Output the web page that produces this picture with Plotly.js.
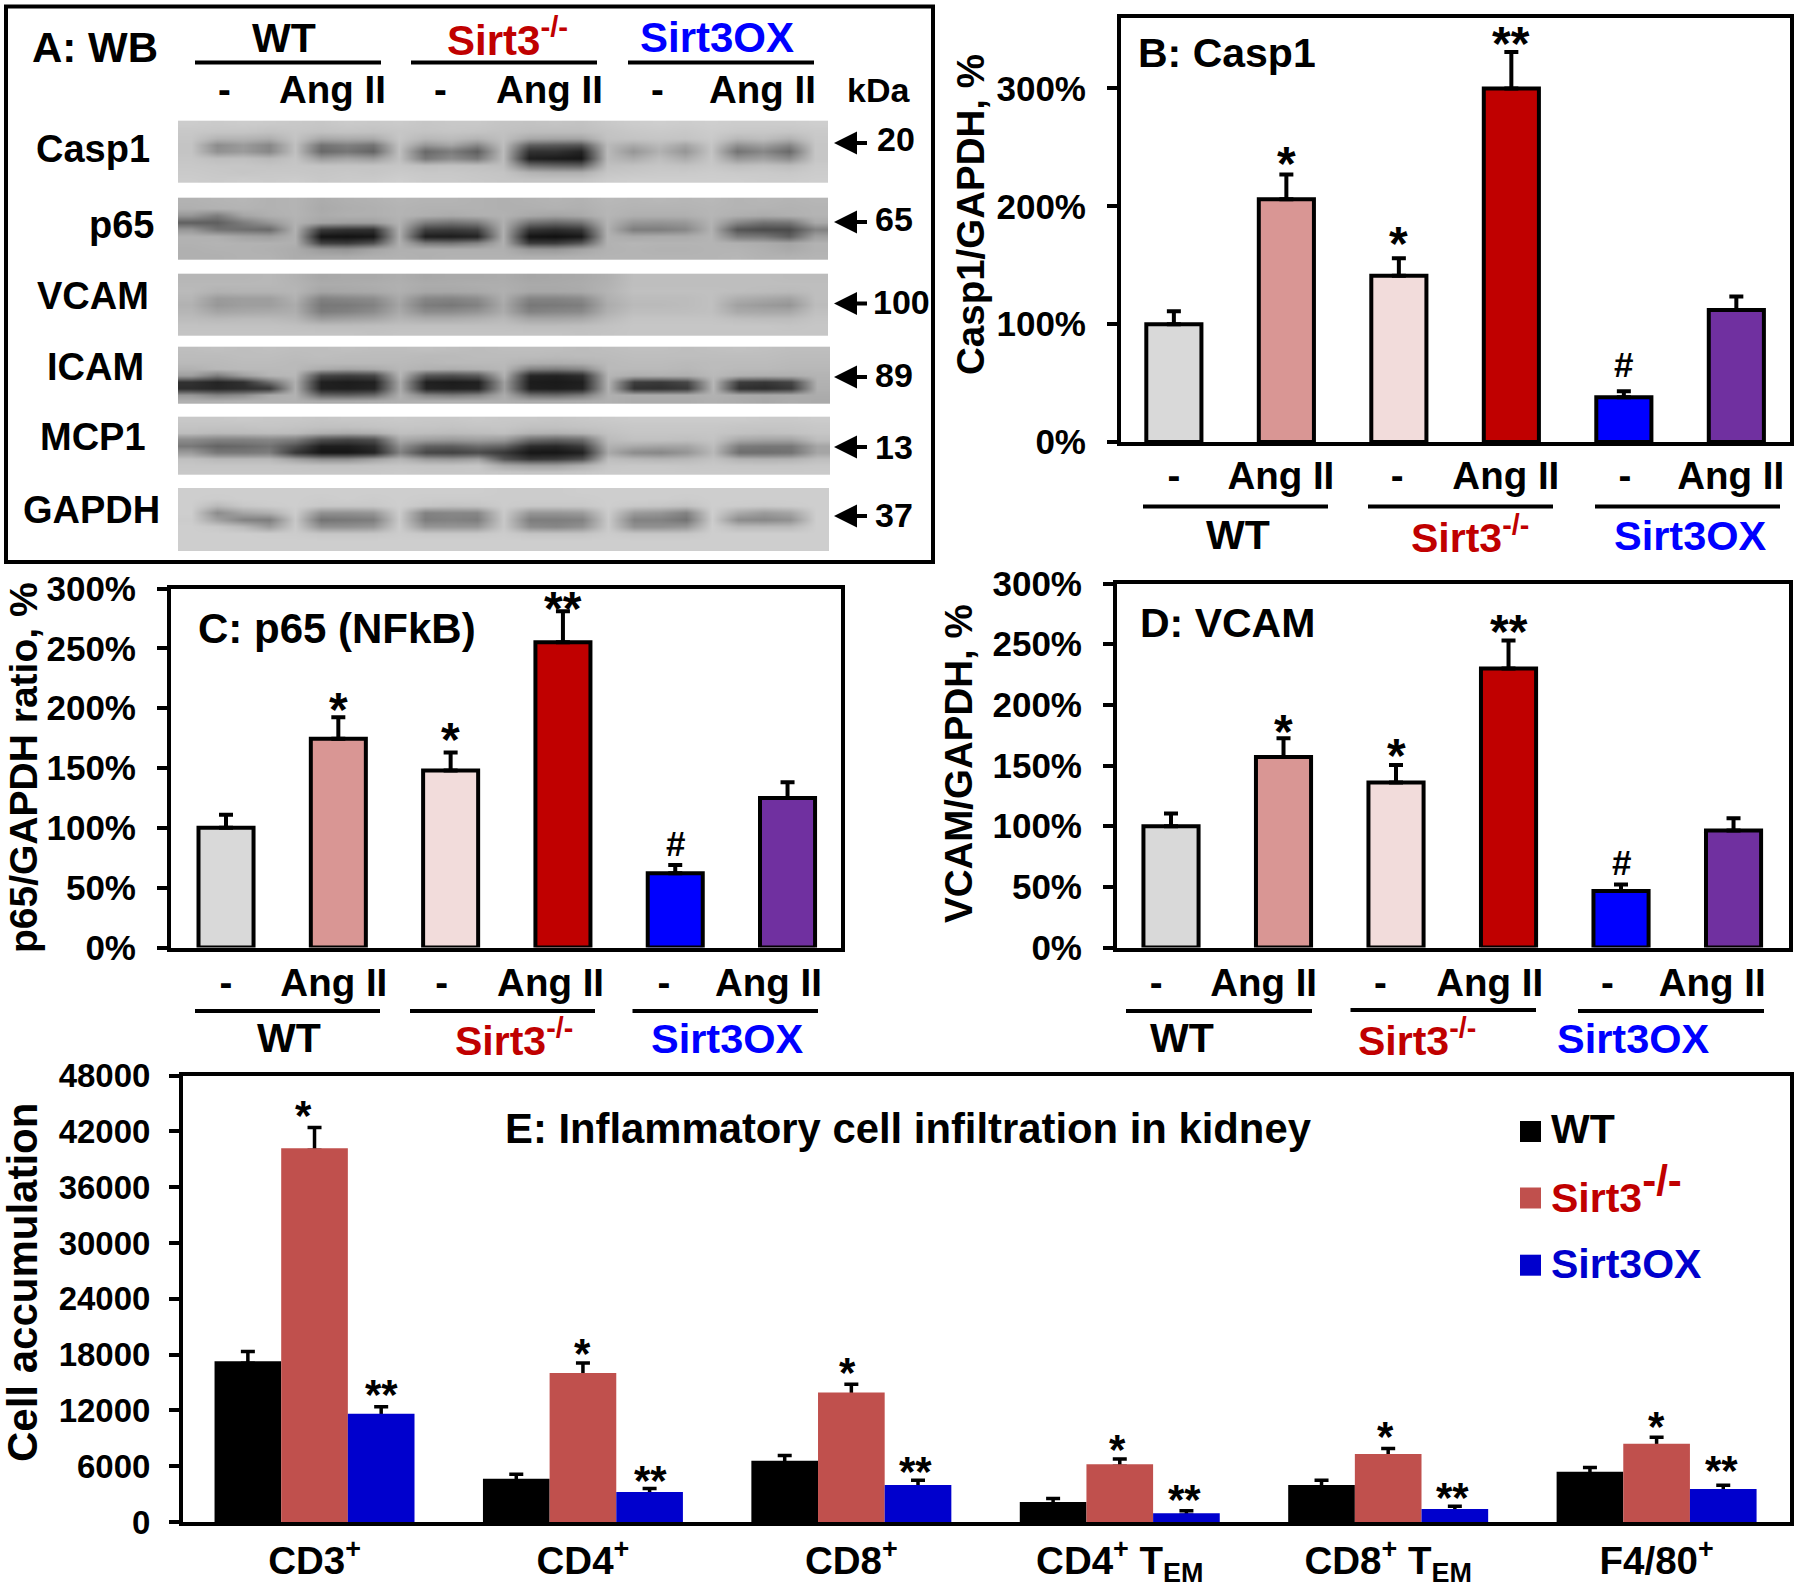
<!DOCTYPE html>
<html><head><meta charset="utf-8">
<script src="https://cdn.plot.ly/plotly-3.0.1.min.js"></script>
<style>html,body{margin:0;padding:0;background:#fff}</style></head>
<body><div id="chart" style="width:1800px;height:1589px"></div>
<script>
const W=1800,H=1589,FONT='"Liberation Sans",Arial,sans-serif';
const RED='#c00000',BLUE='#0000ff',DBLUE='#0000cd';

// ---- data ----
const treatments=['-','Ang II','-','Ang II','-','Ang II'];
const barColors=['#d9d9d9','#d99694','#f2dcdb','#c00000','#0000ff','#7030a0'];
const casp1Values=[100,206,141,300,38,112];
const casp1ErrTop=[111,227,156,331,43,123.5];
const p65Values=[100,174.5,148,255,62,125];
const p65ErrTop=[111,192.5,163,281,69,138];
const vcamValues=[100,157,136,230,46.5,96.5];
const vcamErrTop=[110.5,172.5,150.5,253,52,106.5];
const cellTypes=['CD3<sup>+</sup>','CD4<sup>+</sup>','CD8<sup>+</sup>','CD4<sup>+</sup> T<sub>EM</sub>','CD8<sup>+</sup> T<sub>EM</sub>','F4/80<sup>+</sup>'];
const wtCells=[17290,4640,6580,2160,3990,5390];
const wtCellsErrTop=[18330,5140,7150,2520,4490,5860];
const koCells=[40190,16030,13910,6220,7300,8410];
const koCellsErrTop=[42420,17080,14810,6760,7910,9100];
const oxCells=[11650,3235,3990,935,1400,3560];
const oxCellsErrTop=[12400,3595,4490,1220,1690,3950];

// western blot grey levels, 25 columns by 9 rows, read lane by lane
const casp1Blot=[
[204,202,204,202,200,198,202,200,202,198,200,200,196,194,196,194,200,204,206,204,206,204,204,204,206],
[200,198,198,194,198,194,196,194,198,196,198,196,194,190,190,190,196,200,202,200,204,200,200,198,202],
[198,180,180,174,196,168,172,170,198,184,188,180,192,168,165,165,194,196,198,196,202,184,190,178,200],
[196,140,155,135,192,115,128,115,194,150,165,135,190,95,90,85,186,170,186,165,198,145,160,135,198],
[196,145,155,135,192,105,118,100,192,105,125,95,188,50,50,35,186,150,178,150,196,115,135,105,198],
[198,190,192,185,196,155,165,155,192,120,140,120,188,30,26,22,186,172,190,172,198,150,160,140,198],
[200,198,198,196,198,196,196,196,198,192,194,192,190,110,100,95,192,194,198,194,200,190,194,188,202],
[202,200,198,200,200,198,200,198,202,200,200,198,196,180,175,175,198,200,202,202,204,202,202,200,204],
[204,202,204,202,204,200,202,202,206,202,202,200,198,196,196,196,204,206,206,206,206,206,204,204,206]];
const p65Blot=[
[178,180,182,178,180,172,176,178,182,180,180,178,176,178,180,178,184,182,184,182,184,180,182,180,182],
[176,178,180,178,180,170,174,176,180,178,178,178,176,176,178,176,182,180,180,180,182,180,180,178,180],
[150,125,165,176,180,172,176,176,180,176,172,176,178,170,165,170,182,176,176,176,182,176,172,176,180],
[95,95,125,150,178,165,160,160,178,125,115,125,176,115,105,115,180,150,148,152,180,135,115,118,170],
[150,115,110,105,178,60,50,48,176,65,60,68,176,55,45,55,178,125,125,135,178,85,75,75,130],
[178,176,165,160,176,20,18,22,174,30,28,35,176,20,16,24,178,170,172,172,180,125,120,95,160],
[178,180,178,178,176,65,60,80,176,120,115,130,176,60,60,85,178,182,180,180,180,176,172,165,178],
[176,178,178,176,172,155,150,165,176,176,176,176,176,155,152,165,178,180,178,178,180,180,176,170,178],
[176,176,178,178,172,172,172,176,178,176,178,178,178,176,176,178,180,180,180,180,180,182,178,178,180]];
const vcamBlot=[
[182,182,182,184,178,168,170,170,174,168,170,170,172,166,168,170,176,190,190,190,190,190,190,188,188],
[184,184,184,184,180,172,172,174,176,172,172,174,174,170,170,172,178,190,190,190,190,190,190,190,190],
[186,178,180,180,182,165,168,170,176,168,168,170,176,168,168,170,180,192,192,192,192,190,188,186,190],
[182,155,158,158,178,130,135,140,170,135,132,140,174,132,132,138,176,188,188,188,192,174,168,162,190],
[178,152,158,158,172,120,122,130,165,125,120,130,170,120,122,126,172,186,186,188,192,162,155,150,188],
[182,165,168,170,174,125,130,140,170,140,140,148,172,130,135,138,176,190,190,190,192,170,168,168,192],
[188,184,186,186,182,155,160,165,180,172,172,176,184,165,165,168,186,196,196,196,196,190,188,188,196],
[194,194,194,194,192,188,188,190,192,192,192,192,192,188,188,190,194,198,198,198,198,198,198,196,198],
[196,196,196,196,196,196,196,194,196,196,196,196,196,196,196,194,196,198,198,198,198,198,198,198,198]];
const icamBlot=[
[190,192,190,192,190,190,192,190,190,192,190,188,190,190,190,188,190,192,192,190,192,194,192,190,190],
[188,188,190,190,188,190,188,188,188,186,186,188,188,188,186,188,188,190,190,190,190,190,190,188,188],
[186,186,188,188,186,186,186,186,186,184,186,186,186,176,174,176,186,188,188,186,188,188,188,186,186],
[178,184,186,186,186,172,165,170,184,178,174,178,184,130,125,135,186,186,186,184,188,186,186,184,184],
[160,125,160,182,184,70,62,70,182,85,78,90,178,38,34,45,182,175,178,176,186,178,176,176,180],
[50,36,48,110,176,32,28,32,170,32,28,32,160,28,26,30,180,62,58,72,184,62,56,70,178],
[45,38,45,55,176,32,30,36,170,36,32,36,160,30,28,34,178,50,48,58,182,48,44,58,176],
[150,130,140,170,178,100,95,105,176,130,120,130,172,110,105,120,176,172,172,172,178,170,168,170,172],
[176,176,178,178,178,170,170,172,176,176,176,176,176,170,170,172,176,172,172,172,176,172,168,172,170]];
const mcp1Blot=[
[200,200,202,200,200,198,200,200,202,200,200,202,200,200,198,200,202,204,204,204,204,204,202,202,204],
[196,196,196,198,196,194,194,196,198,198,196,198,198,194,194,196,198,200,200,200,200,198,198,198,200],
[190,186,188,190,188,176,172,176,192,190,188,190,192,180,178,182,194,198,198,198,198,194,192,194,198],
[140,130,130,135,125,80,70,80,170,160,155,160,155,110,100,110,188,194,194,192,196,170,165,165,190],
[120,100,105,115,80,30,30,45,145,100,95,110,100,45,40,60,178,170,165,165,190,125,120,120,165],
[155,120,120,125,55,22,22,35,130,70,65,75,55,22,22,32,170,140,135,150,185,110,110,115,165],
[192,184,184,184,160,140,140,160,180,155,150,160,85,55,60,80,190,184,180,184,194,178,176,178,190],
[198,198,198,198,196,194,194,196,198,196,196,198,170,160,160,176,198,200,200,198,200,198,198,198,200],
[200,200,200,200,200,200,200,200,202,200,200,200,198,196,196,198,202,202,202,202,202,202,202,202,202]];
const gapdhBlot=[
[206,206,206,206,206,206,206,206,206,206,206,206,204,204,204,206,206,206,206,206,206,206,206,206,206],
[206,204,206,206,206,204,206,204,206,204,204,204,204,204,204,204,206,206,206,204,206,206,206,206,206],
[206,185,200,204,206,200,200,200,206,198,194,196,204,200,200,200,206,200,198,194,206,204,202,204,206],
[206,140,165,175,204,145,145,150,204,130,135,135,202,150,150,155,204,155,150,130,206,170,155,165,206],
[204,160,130,125,200,115,120,125,202,125,130,125,200,125,125,130,202,130,130,115,204,140,135,145,206],
[206,200,185,155,202,145,145,150,204,150,150,150,200,140,135,145,202,145,145,150,206,185,185,185,206],
[206,206,206,204,204,198,198,198,204,200,200,200,204,196,196,196,204,198,198,198,206,206,206,206,206],
[206,206,206,206,206,206,206,206,206,206,206,206,206,206,206,206,206,206,206,206,206,206,206,206,206],
[206,206,206,206,206,206,206,206,206,206,206,206,206,206,206,206,206,206,206,206,206,206,206,206,206]];
const blots=[
 {name:'Casp1',z:casp1Blot,top:120.7,bottom:182.3,right:828,label:92.5,base:162,kda:'20',kdaX:896,arrowY:143,kdaBase:151},
 {name:'p65',z:p65Blot,top:197.7,bottom:260,right:828,label:121,base:238,kda:'65',kdaX:894,arrowY:222,kdaBase:231},
 {name:'VCAM',z:vcamBlot,top:273.7,bottom:335.7,right:828,label:93,base:309,kda:'100',kdaX:901,arrowY:303.5,kdaBase:314},
 {name:'ICAM',z:icamBlot,top:346.7,bottom:404,right:830,label:95,base:380,kda:'89',kdaX:894,arrowY:377,kdaBase:387},
 {name:'MCP1',z:mcp1Blot,top:416.7,bottom:475,right:830,label:92.5,base:450,kda:'13',kdaX:894,arrowY:447,kdaBase:459},
 {name:'GAPDH',z:gapdhBlot,top:488,bottom:550.7,right:829,label:91,base:523,kda:'37',kdaX:894,arrowY:516,kdaBase:527}];
const BLOT_LEFT=178;

// ---- helpers ----
const px=x=>x/W, py=y=>1-y/H;
const ann=[], shp=[];
function T(text,x,base,size,color,angle){
  const a={text,xref:'paper',yref:'paper',x:px(x),y:py(base-0.35*size),xanchor:'center',yanchor:'middle',showarrow:false,
    font:{family:FONT,size,color:color||'#000',weight:700}};
  if(angle!==undefined){a.textangle=angle;a.y=py(base);a.x=px(x);}
  ann.push(a);
}
function L(x0,x1,y,w){shp.push({type:'line',xref:'paper',yref:'paper',x0:px(x0),x1:px(x1),y0:py(y),y1:py(y),line:{color:'#000',width:w||4}});}
function Mark(sym,ax,x,y,size){
  const isHash=sym==='#';
  ann.push({text:sym,xref:'x'+ax,yref:'y'+ax,x,y,xanchor:'center',yanchor:'middle',showarrow:false,
    yshift:isHash?0:-0.16*size,font:{family:FONT,size,color:'#000',weight:700}});
}
function barTrace(vals,top,ax){
  return {type:'bar',x:[0,1,2,3,4,5],y:vals,width:0.49,xaxis:'x'+ax,yaxis:'y'+ax,
   marker:{color:barColors,line:{color:'#000',width:4}},hoverinfo:'skip',showlegend:false,
   error_y:{type:'data',symmetric:false,array:top.map((t,i)=>t-vals[i]),arrayminus:[0,0,0,0,0,0],color:'#000',thickness:4,width:7}};
}
// the whisker sits in a clear bar drawn first and slightly shorter, so the solid bar covers its lower cap
const CAP_HIDE=220;
function cellErrTrace(name,vals,top){
  const base=vals.map(v=>v-CAP_HIDE);
  return {type:'bar',name:name+' error',offsetgroup:name,x:[0,1,2,3,4,5],y:base,xaxis:'x5',yaxis:'y5',marker:{color:'rgba(0,0,0,0)'},hoverinfo:'skip',showlegend:false,
   error_y:{type:'data',symmetric:false,array:top.map((t,i)=>t-base[i]),arrayminus:[0,0,0,0,0,0],color:'#000',thickness:3.5,width:7}};
}
function cellTrace(name,vals,color){
  return {type:'bar',name,offsetgroup:name,x:[0,1,2,3,4,5],y:vals,xaxis:'x5',yaxis:'y5',marker:{color},hoverinfo:'skip',showlegend:false};
}
function xAxis(L0,R0,n,tickvals,ticktext,size,standoff,range){
  return {domain:[px(L0),px(R0)],anchor:'y'+n,range:range||[-0.5,5.5],showgrid:false,zeroline:false,showline:true,linecolor:'#000',linewidth:4,mirror:true,
   ticks:'',tickmode:'array',tickvals,ticktext,tickangle:0,ticklabelstandoff:standoff,tickfont:{family:FONT,size,color:'#000',weight:700}};
}
function yAxis(T0,B0,n,range,tickvals,ticktext,size,standoff){
  return {domain:[py(B0),py(T0)],anchor:'x'+n,range,showgrid:false,zeroline:false,showline:true,linecolor:'#000',linewidth:4,mirror:true,
   ticks:'outside',ticklen:10,tickwidth:4,tickcolor:'#000',tickmode:'array',tickvals,ticktext,ticklabelstandoff:standoff===undefined?14:standoff,tickfont:{family:FONT,size,color:'#000',weight:700}};
}
const pct3=['0%','100%','200%','300%'], pct6=['0%','50%','100%','150%','200%','250%','300%'];
const SIRT='Sirt3<sup>-/-</sup>';
const SIRT_LEGEND='Sirt3<sup><span style="font-size:42px">-/-</span></sup>';

// ---- traces ----
const data=[
 barTrace(casp1Values,casp1ErrTop,2),
 barTrace(p65Values,p65ErrTop,3),
 barTrace(vcamValues,vcamErrTop,4),
 cellErrTrace('WT',wtCells,wtCellsErrTop),
 cellErrTrace('Sirt3-/-',koCells,koCellsErrTop),
 cellErrTrace('Sirt3OX',oxCells,oxCellsErrTop),
 cellTrace('WT',wtCells,'#000000'),
 cellTrace('Sirt3-/-',koCells,'#c0504d'),
 cellTrace('Sirt3OX',oxCells,DBLUE)
];
blots.forEach(b=>{
  const rows=b.z.length,cols=b.z[0].length,dx=(b.right-BLOT_LEFT)/cols,dy=(b.bottom-b.top)/rows;
  data.push({type:'heatmap',z:b.z,x0:BLOT_LEFT+dx/2,dx,y0:b.top+dy/2,dy,xaxis:'x',yaxis:'y',zmin:0,zmax:255,zsmooth:'best',
    colorscale:[[0,'#000'],[1,'#fff']],showscale:false,hoverinfo:'skip',name:b.name});
  T(b.name,b.label,b.base,38);
  T(b.kda,b.kdaX,b.kdaBase,34);
  ann.push({text:' ',xref:'paper',yref:'paper',x:px(834),y:py(b.arrowY),axref:'pixel',ayref:'pixel',ax:36,ay:0,showarrow:true,arrowhead:2,arrowsize:1.15,arrowwidth:4,arrowcolor:'#000'});
});

// ---- panel A text ----
shp.push({type:'rect',xref:'paper',yref:'paper',x0:px(6),x1:px(933),y0:py(6.5),y1:py(562),line:{color:'#000',width:4}});
T('A: WB',95,62,42);
T('WT',284,52,41);T(SIRT,507,52,42,RED);T('Sirt3OX',717,52,42,BLUE);
L(195,381,62.5);L(411,597,62.5);L(628,814,62.5);
['-','Ang II','-','Ang II','-','Ang II'].forEach((t,i)=>T(t,[224,332,440,549,657,762][i],103,38.5));
T('kDa',878,102,34);

// ---- panel labels ----
T('B: Casp1',1227,67,41);
T('C: p65 (NFkB)',337,643,42);
T('D: VCAM',1227,637,41);
T('E: Inflammatory cell infiltration in kidney',908,1143,41.8);

// axis titles
T('Casp1/GAPDH, %',970,215,38.5,'#000',-90);
T('p65/GAPDH ratio, %',24,768,39,'#000',-90);
T('VCAM/GAPDH, %',958,764,38.5,'#000',-90);
T('Cell accumulation',22,1283,42,'#000',-90);

// group labels under B, C, D
L(1143,1328,506.4);L(1368,1553,506.4);L(1595,1780,506.4);
T('WT',1238,549.6,41);T(SIRT,1470,549.6,41,RED);T('Sirt3OX',1690,549.6,41.5,BLUE);
L(195,380,1011);L(410,595,1011);L(632.5,818,1011);
T('WT',289,1052.7,41);T(SIRT,514,1052.7,41,RED);T('Sirt3OX',727,1052.7,41.5,BLUE);
L(1126,1312,1011);L(1350.5,1536,1010);L(1578,1764,1011);
T('WT',1182,1052.7,41);T(SIRT,1417,1052.7,41,RED);T('Sirt3OX',1633.5,1052.7,41.5,BLUE);

// significance marks
[['*',1,243],['*',2,175],['**',3,345],['#',4,66]].forEach(m=>Mark(m[0],2,m[1],m[2],m[0]==='#'?35:48));
[['*',1,205],['*',2,180],['**',3,289.5],['#',4,87]].forEach(m=>Mark(m[0],3,m[1],m[2],m[0]==='#'?35:48));
[['*',1,184],['*',2,164.4],['**',3,267],['#',4,70]].forEach(m=>Mark(m[0],4,m[1],m[2],m[0]==='#'?35:48));
[['*',-0.04,44470],['**',0.25,14380],['*',1,18870],['**',1.25,5140],['*',1.985,16790],['**',2.24,6110],
 ['*',2.99,8520],['**',3.24,3130],['*',3.99,9890],['**',4.24,3340],['*',5,11040],['**',5.24,6290]].forEach(m=>Mark(m[0],5,m[1],m[2],42));

// legend of panel E
[['WT','#000000','#000',1121,1129],[SIRT_LEGEND,'#c0504d',RED,1187.5,1189],['Sirt3OX',DBLUE,DBLUE,1254.7,1263.6]].forEach(e=>{
  shp.push({type:'rect',xref:'paper',yref:'paper',x0:px(1520),x1:px(1541),y0:py(e[3]),y1:py(e[3]+21),fillcolor:e[1],line:{width:0}});
  ann.push({text:e[0],xref:'paper',yref:'paper',x:px(1549),y:py(e[4]),xanchor:'left',yanchor:'middle',showarrow:false,font:{family:FONT,size:41,color:e[2],weight:700}});
});

// ---- layout ----
const layout={width:W,height:H,margin:{l:0,r:0,t:0,b:0},autosize:false,paper_bgcolor:'#fff',plot_bgcolor:'rgba(0,0,0,0)',
 barmode:'group',bargap:0.255,bargroupgap:0,showlegend:false,annotations:ann,shapes:shp,
 xaxis:{domain:[px(BLOT_LEFT),px(830)],range:[BLOT_LEFT,830],visible:false,anchor:'y',fixedrange:true},
 yaxis:{domain:[py(551),py(120)],range:[551,120],visible:false,anchor:'x',fixedrange:true},
 xaxis2:xAxis(1121,1790,2,[0,0.951,1.985,2.951,4.01,4.95],treatments,38.5,-3,[-0.47,5.477]),
 yaxis2:yAxis(17.7,442,2,[0,360],[0,100,200,300],pct3,35),
 xaxis3:xAxis(171,841,3,[0,0.96,1.92,2.89,3.90,4.83],treatments,38.5,-2,[-0.49,5.476]),
 yaxis3:yAxis(588.5,947.5,3,[0,300],[0,50,100,150,200,250,300],pct6,35),
 xaxis4:xAxis(1117,1789,4,[-0.133,0.823,1.862,2.833,3.88,4.81],treatments,38.5,-2,[-0.48,5.493]),
 yaxis4:yAxis(583.5,947.5,4,[0,300],[0,50,100,150,200,250,300],pct6,35),
 xaxis5:xAxis(183,1790,5,[0,1,2,3,4,5],cellTypes,38.5,2,[-0.49,5.497]),
 yaxis5:yAxis(1075.5,1522,5,[0,48000],[0,6000,12000,18000,24000,30000,36000,42000,48000],['0','6000','12000','18000','24000','30000','36000','42000','48000'],33,12)
};
Plotly.newPlot('chart',data,layout,{displayModeBar:false,staticPlot:true});
</script></body></html>
